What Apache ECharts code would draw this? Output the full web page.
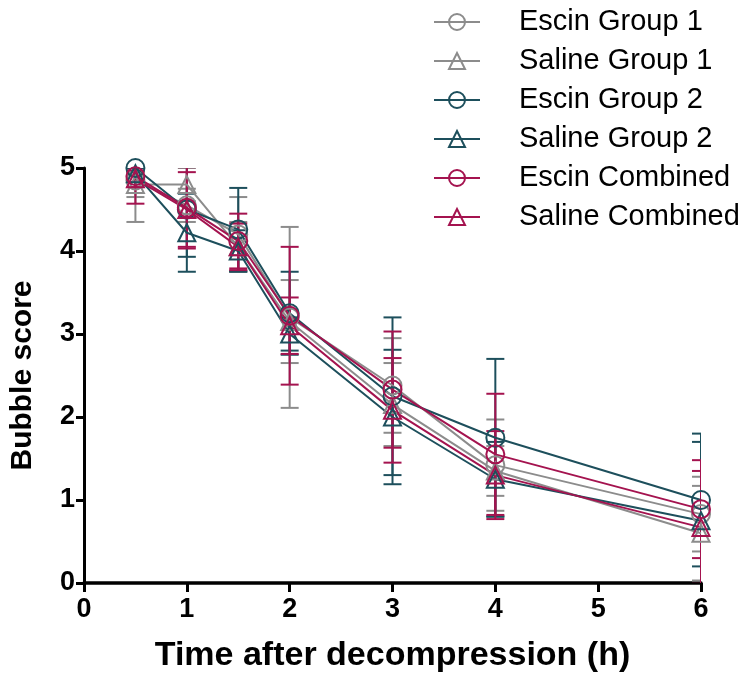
<!DOCTYPE html>
<html>
<head>
<meta charset="utf-8">
<script src="https://cdn.jsdelivr.net/npm/echarts@6/dist/echarts.min.js"></script>
<style>html,body{margin:0;padding:0;background:#fff}#c{width:750px;height:684px}</style>
</head>
<body>
<div id="c"></div>
<script>
const times = [0.5, 1, 1.5, 2, 3, 4, 6];
const xTicks = [0, 1, 2, 3, 4, 5, 6];
const yTicks = [0, 1, 2, 3, 4, 5];
const seriesNames = ['Escin Group 1', 'Saline Group 1', 'Escin Group 2', 'Saline Group 2', 'Escin Combined', 'Saline Combined'];
const escinG1 = [4.85, 4.55, 4.2, 3.2, 2.38, 1.42, 0.83];
const escinG1Err = [0.5, 0.2, 0.45, 1.09, 0.57, 0.55, 0.45];
const salineG1 = [4.8, 4.8, 4.05, 3.15, 2.15, 1.35, 0.6];
const salineG1Err = [0.15, 0.2, 0.3, 0.5, 0.5, 0.3, 0.57];
const escinG2 = [5.0, 4.5, 4.26, 3.25, 2.25, 1.75, 1.0];
const escinG2Err = [0, 0.57, 0.5, 0.5, 0.95, 0.95, 0.8];
const salineG2 = [4.93, 4.22, 4.0, 3.0, 2.0, 1.25, 0.75];
const salineG2Err = [0.1, 0.47, 0.25, 0.2, 0.81, 0.45, 0.95];
const escinComb = [4.9, 4.52, 4.12, 3.22, 2.33, 1.55, 0.89];
const escinCombErr = [0.33, 0.49, 0.33, 0.83, 0.7, 0.73, 0.59];
const salineComb = [4.87, 4.5, 4.05, 3.1, 2.08, 1.3, 0.67];
const salineCombErr = [0.1, 0.45, 0.28, 0.34, 0.63, 0.53, 0.68];

const GRAY = '#8c8c8c', TEAL = '#1d4f5c', MAG = '#a4134f';
const defs = [
  {name: seriesNames[0], mean: escinG1, err: escinG1Err, color: GRAY, symbol: 'circle'},
  {name: seriesNames[1], mean: salineG1, err: salineG1Err, color: GRAY, symbol: 'triangle'},
  {name: seriesNames[2], mean: escinG2, err: escinG2Err, color: TEAL, symbol: 'circle'},
  {name: seriesNames[3], mean: salineG2, err: salineG2Err, color: TEAL, symbol: 'triangle'},
  {name: seriesNames[4], mean: escinComb, err: escinCombErr, color: MAG, symbol: 'circle'},
  {name: seriesNames[5], mean: salineComb, err: salineCombErr, color: MAG, symbol: 'triangle'}
];

const FONT = "'Liberation Sans', Arial, Helvetica, sans-serif";
const series = [];
defs.forEach(d => {
  series.push({
    name: d.name + ' (error)',
    type: 'custom',
    clip: true,
    silent: true,
    itemStyle: {color: d.color},
    data: times.map((t, i) => [t, d.mean[i] - d.err[i], d.mean[i] + d.err[i]]),
    renderItem: function (params, api) {
      const x = api.value(0);
      const lo = api.coord([x, api.value(1)]);
      const hi = api.coord([x, api.value(2)]);
      const w = 9;
      const st = {stroke: d.color, lineWidth: 2, fill: null};
      return {
        type: 'group',
        children: [
          {type: 'line', shape: {x1: lo[0], y1: lo[1], x2: hi[0], y2: hi[1]}, style: st},
          {type: 'line', shape: {x1: lo[0] - w, y1: lo[1], x2: lo[0] + w, y2: lo[1]}, style: st},
          {type: 'line', shape: {x1: hi[0] - w, y1: hi[1], x2: hi[0] + w, y2: hi[1]}, style: st}
        ]
      };
    }
  });
  series.push({
    name: d.name,
    type: 'line',
    data: times.map((t, i) => [t, d.mean[i]]),
    symbol: d.symbol,
    symbolSize: d.symbol === 'circle' ? 18 : 17,
    showAllSymbol: true,
    lineStyle: {color: d.color, width: 2},
    itemStyle: {color: 'rgba(255,255,255,0)', borderColor: d.color, borderWidth: 2},
    emphasis: {disabled: true},
    animation: false
  });
});

const chart = echarts.init(document.getElementById('c'), null, {renderer: 'canvas'});
chart.setOption({
  animation: false,
  backgroundColor: '#fff',
  grid: {left: 79, right: 49, top: 168, bottom: 101, containLabel: false},
  legend: {
    data: seriesNames,
    orient: 'vertical',
    left: 428,
    top: 2,
    itemWidth: 46,
    itemHeight: 20,
    itemGap: 9,
    selectedMode: false,
    textStyle: {fontFamily: FONT, fontSize: 29, color: '#000', lineHeight: 30, padding: [0, 0, 0, 34]}
  },
  xAxis: {
    type: 'value',
    min: xTicks[0],
    max: xTicks[xTicks.length - 1],
    interval: 1,
    name: 'Time after decompression (h)',
    nameLocation: 'middle',
    nameGap: 56,
    nameTextStyle: {fontFamily: FONT, fontSize: 34, fontWeight: 'bold', color: '#000'},
    axisLine: {lineStyle: {color: '#000', width: 3.5}},
    axisTick: {length: 9, lineStyle: {color: '#000', width: 3}},
    axisLabel: {fontFamily: FONT, fontSize: 27, fontWeight: 'bold', color: '#000', margin: 13},
    splitLine: {show: false}
  },
  yAxis: {
    type: 'value',
    min: yTicks[0],
    max: yTicks[yTicks.length - 1],
    interval: 1,
    name: 'Bubble score',
    nameLocation: 'middle',
    nameGap: 46,
    nameTextStyle: {fontFamily: FONT, fontSize: 30, fontWeight: 'bold', color: '#000'},
    axisLine: {show: true, lineStyle: {color: '#000', width: 3}},
    axisTick: {show: true, length: 8, lineStyle: {color: '#000', width: 3}},
    axisLabel: {fontFamily: FONT, fontSize: 27, fontWeight: 'bold', color: '#000', margin: 9},
    splitLine: {show: false}
  },
  series: series
});
</script>
</body>
</html>
